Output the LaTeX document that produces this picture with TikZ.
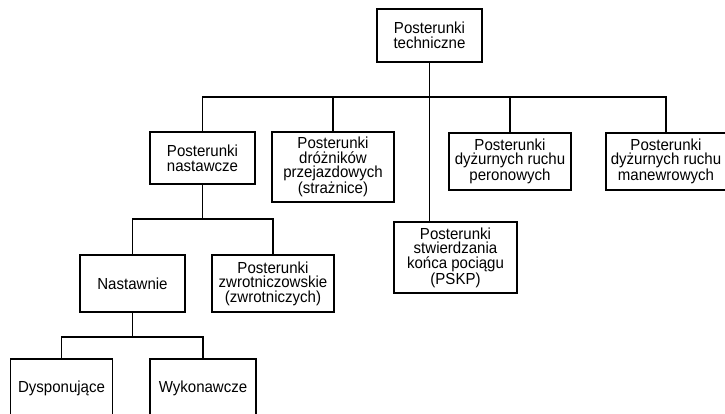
\documentclass[tikz,border=0pt]{standalone}
\usepackage{fontspec}
\setmainfont{Liberation Sans}
\newfontfamily\boxfont[FakeStretch=0.94]{Liberation Sans}
\begin{document}
\begin{tikzpicture}[x=1pt,y=-1pt,
  box/.style={draw, line width=1.8pt, align=center, inner sep=0pt,
    font=\boxfont\fontsize{16}{14.6}\selectfont},
  conn/.style={draw, line width=1.8pt}]
\useasboundingbox (0,0) rectangle (725,413);
\clip (0,0) rectangle (725,413);
\node[box, minimum width=105, minimum height=53] (top) at (429.5,35.5) {Posterunki\\techniczne};
\node[box, minimum width=105, minimum height=52] (nast) at (202.5,158) {Posterunki\\nastawcze};
\node[box, minimum width=122, minimum height=70] (droz) at (333,167) {Posterunki\\dróżników\\przejazdowych\\(strażnice)};
\node[box, minimum width=122, minimum height=57] (peron) at (510,161.5) {Posterunki\\dyżurnych ruchu\\peronowych};
\node[box, minimum width=120, minimum height=57] (manew) at (666,161.5) {Posterunki\\dyżurnych ruchu\\manewrowych};
\node[box, minimum width=123, minimum height=71] (pskp) at (455.5,257.5) {Posterunki\\stwierdzania\\końca pociągu\\(PSKP)};
\node[box, minimum width=105, minimum height=57] (nastawnie) at (132.5,283.5) {Nastawnie};
\node[box, minimum width=122, minimum height=57] (zwrot) at (273,283.5) {Posterunki\\zwrotniczowskie\\(zwrotniczych)};
\node[box, minimum width=102, minimum height=58] (dysp) at (61.5,388) {Dysponujące};
\node[box, minimum width=106, minimum height=58] (wyk) at (203,388) {Wykonawcze};
\coordinate (bus) at (429.5,97);
\coordinate (b2) at (202.5,219);
\coordinate (b3) at (132.5,337);
\draw[conn] (top.south) -- (top.south |- pskp.north);
\draw[conn] (nast.north) |- (bus) -| (manew.north);
\draw[conn] (droz.north) -- (droz.north |- bus);
\draw[conn] (peron.north) -- (peron.north |- bus);
\draw[conn] (nast.south) -- (b2);
\draw[conn] (nastawnie.north) |- (b2) -| (zwrot.north);
\draw[conn] (nastawnie.south) -- (b3);
\draw[conn] (dysp.north) |- (b3) -| (wyk.north);
\end{tikzpicture}
\end{document}
